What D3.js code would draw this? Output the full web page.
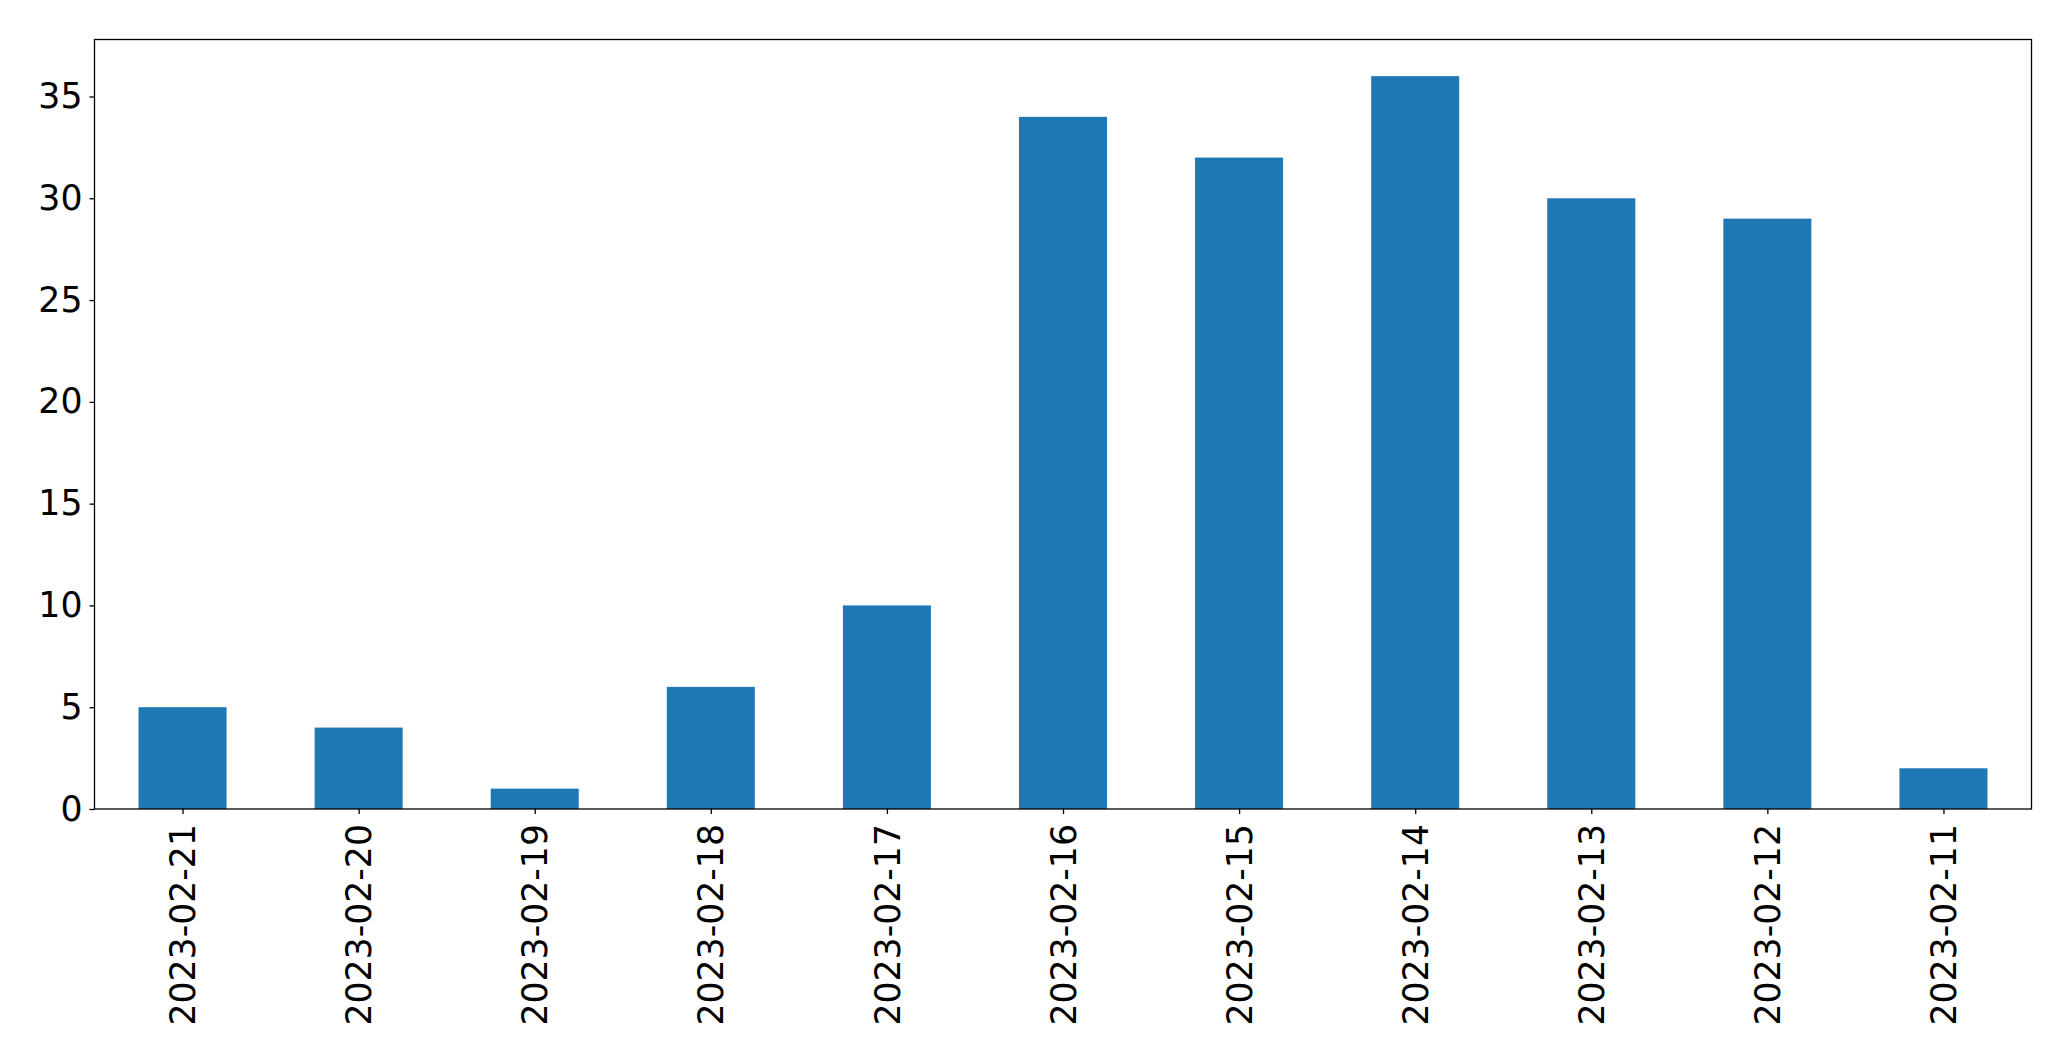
<!DOCTYPE html>
<html>
<head>
<meta charset="utf-8">
<script src="https://cdn.jsdelivr.net/npm/d3@7"></script>
<style>
  body { margin: 0; background: #fff; }
  svg text { font-family: "DejaVu Sans", sans-serif; fill: #000; }
</style>
</head>
<body>
<div id="chart"></div>
<script>
var dates = ['2023-02-21','2023-02-20','2023-02-19','2023-02-18','2023-02-17','2023-02-16',
             '2023-02-15','2023-02-14','2023-02-13','2023-02-12','2023-02-11'];
var counts = [5, 4, 1, 6, 10, 34, 32, 36, 30, 29, 2];
var yTicks = [0, 5, 10, 15, 20, 25, 30, 35];

var W = 2071, H = 1061;
var margin = {top: 39.5, right: 39.5, bottom: 252, left: 94.5};
var width = W - margin.left - margin.right,
    height = H - margin.top - margin.bottom;

var svg = d3.select('#chart').append('svg')
    .attr('width', W)
    .attr('height', H)
  .append('g')
    .attr('transform', 'translate(' + margin.left + ',' + margin.top + ')');

// matplotlib style: each category takes one unit, bars are 0.5 wide
var x = d3.scaleLinear().domain([-0.5, dates.length - 0.5]).range([0, width]);
var y = d3.scaleLinear().domain([0, d3.max(counts) * 1.05]).range([height, 0]);

svg.selectAll('rect.bar')
    .data(counts)
  .enter().append('rect')
    .attr('class', 'bar')
    .attr('x', function(d, i) { return x(i - 0.25); })
    .attr('width', function(d, i) { return x(i + 0.25) - x(i - 0.25); })
    .attr('y', function(d) { return y(d); })
    .attr('height', function(d) { return y(0) - y(d); })
    .style('fill', '#1f77b4');

// x axis
var xAxis = svg.append('g')
    .attr('transform', 'translate(0,' + height + ')')
    .call(d3.axisBottom(x)
      .tickValues(d3.range(dates.length))
      .tickFormat(function(i) { return dates[i]; })
      .tickSize(5)
      .tickPadding(4));
xAxis.select('.domain').remove();
xAxis.selectAll('line').style('stroke', '#000').style('stroke-width', 1.3);
xAxis.selectAll('text')
    .style('font-size', '34.7px')
    .attr('transform', 'rotate(-90)')
    .attr('text-anchor', 'end')
    .attr('x', -15)
    .attr('y', 0)
    .attr('dy', '0.35em');

// y axis
var yAxis = svg.append('g')
    .call(d3.axisLeft(y).tickValues(yTicks).tickSize(5).tickPadding(7));
yAxis.select('.domain').remove();
yAxis.selectAll('line').style('stroke', '#000').style('stroke-width', 1.3);
yAxis.selectAll('text').style('font-size', '34.7px');

// frame
svg.append('rect')
    .attr('width', width)
    .attr('height', height)
    .style('fill', 'none')
    .style('stroke', '#000')
    .style('stroke-width', 1.3);
</script>
</body>
</html>
